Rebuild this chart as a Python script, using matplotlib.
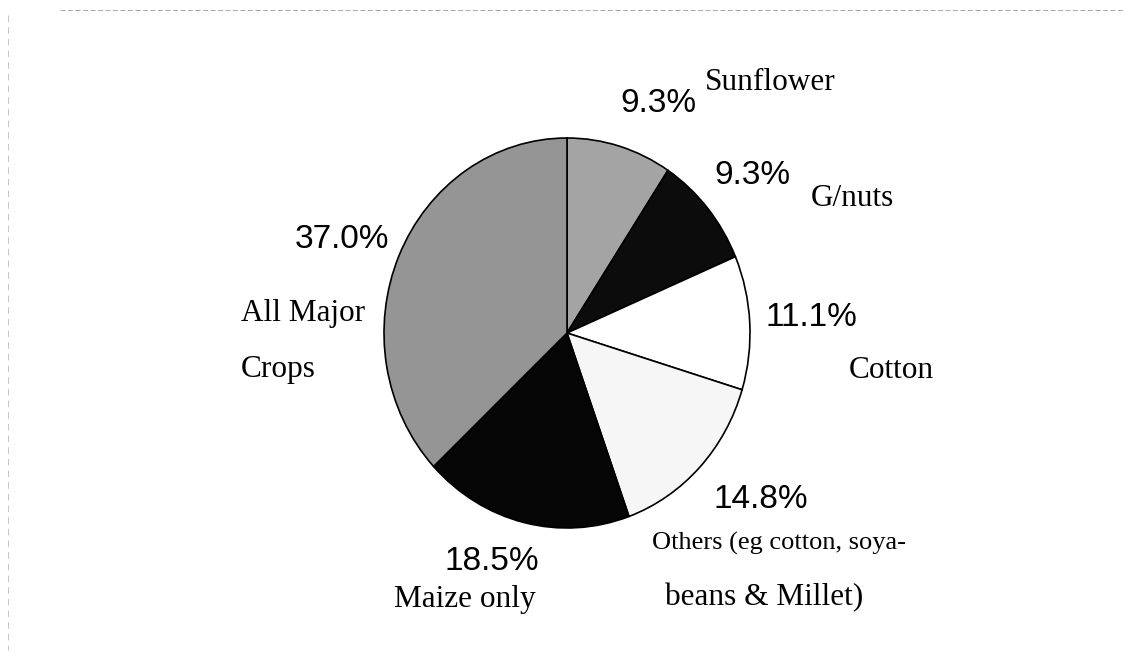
import matplotlib.pyplot as plt
from matplotlib.lines import Line2D

# slices, clockwise from 12 o'clock
crops = ['Sunflower', 'G/nuts', 'Cotton', 'Others', 'Maize only', 'All Major Crops']
shares = [9.3, 9.3, 11.1, 14.8, 18.5, 37.0]
pct_labels = ['9.3%', '9.3%', '11.1%', '14.8%', '18.5%', '37.0%']
fills = ['#a4a4a4', '#0c0c0c', '#ffffff', '#f6f6f6', '#050505', '#959595']

W, H = 1125, 662
fig = plt.figure(figsize=(W / 100, H / 100), dpi=100)
fig.patch.set_facecolor('white')

# pie is a bit taller than wide in the scan
cx, cy, rx, ry = 567, 333, 183, 195
lim = 1.03
ax = fig.add_axes([(cx - rx * lim) / W, (H - cy - ry * lim) / H,
                   2 * rx * lim / W, 2 * ry * lim / H])
ax.pie(shares, startangle=90, counterclock=False, colors=fills,
       wedgeprops=dict(edgecolor='black', linewidth=1.2))
ax.set_aspect('auto')
ax.set_xlim(-lim, lim)
ax.set_ylim(-lim, lim)
ax.axis('off')


def put(txt, x, y, serif=False, size=None, ha='center'):
    fam = 'Liberation Serif' if serif else 'Liberation Sans'
    if size is None:
        size = 22.5 if serif else 24
    fig.text(x / W, 1 - y / H, txt, ha=ha, va='center',
             fontsize=size, family=fam, color='black')


# percentages
put(pct_labels[0], 658, 103)
put(pct_labels[1], 752, 176)
put(pct_labels[2], 811, 317)
put(pct_labels[3], 761, 499)
put(pct_labels[4], 492, 562)
put(pct_labels[5], 342, 240)

# category names
put(crops[0], 770, 82, serif=True)
put(crops[1], 852, 199, serif=True)
put(crops[2], 891, 370, serif=True)
put('Others (eg cotton, soya-', 652, 543, serif=True, size=19, ha='left')
put('beans & Millet)', 665, 598, serif=True, ha='left')
put(crops[4], 465, 600, serif=True)
put('All Major', 241, 313, serif=True, ha='left')
put('Crops', 241, 370, serif=True, ha='left')

# faint scan border at top and left
fig.add_artist(Line2D([60 / W, 1], [1 - 10 / H, 1 - 10 / H], color='#999999',
                      lw=0.6, ls=(0, (6, 3))))
fig.add_artist(Line2D([8 / W, 8 / W], [1 - 15 / H, 1 - 650 / H], color='#bbbbbb',
                      lw=0.6, ls=(0, (8, 6))))

fig.savefig('out.png', dpi=100)
